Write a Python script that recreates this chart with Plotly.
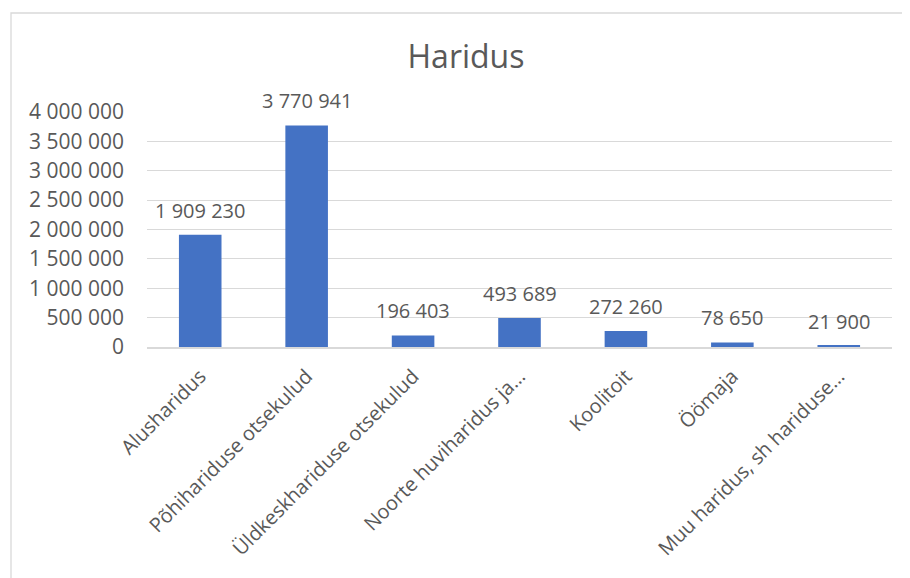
import plotly.graph_objects as go

categories = [
    "Alusharidus",
    "Põhihariduse otsekulud",
    "Üldkeskhariduse otsekulud",
    "Noorte huviharidus ja…",
    "Koolitoit",
    "Öömaja",
    "Muu haridus, sh hariduse…",
]
values = [1909230, 3770941, 196403, 493689, 272260, 78650, 21900]
labels = ["1 909 230", "3 770 941", "196 403", "493 689", "272 260", "78 650", "21 900"]

FONT = "Open Sans"
GREY = "#595959"
OFF = 8  # page body margin offset
W, H = 910 - OFF, 578 - OFF
L, R, T, B = 147 - OFF, 18, 112 - OFF, 231
pw = W - L - R
ph = H - T - B

fig = go.Figure(go.Bar(
    x=categories, y=values,
    marker=dict(color="#4472C4", line=dict(width=0)),
    cliponaxis=False,
))

for c, v, t in zip(categories, values, labels):
    fig.add_annotation(x=c, y=v, text=t, showarrow=False, yanchor="bottom",
                       xanchor="center", yshift=10, borderpad=0,
                       font=dict(family=FONT, size=20, color=GREY))

# chart-area border (light grey), extends past right/bottom edges
fig.add_shape(type="rect", xref="paper", yref="paper",
              x0=(11 - OFF - L) / pw, x1=(W + 5 - L) / pw,
              y0=(H - B - (H + 5)) / ph, y1=(H - B - (13 - OFF)) / ph,
              line=dict(color="#d9d9d9", width=1.3), fillcolor="rgba(0,0,0,0)", layer="below")

fig.update_layout(
    width=W, height=H,
    margin=dict(l=L, r=R, t=T, b=B, pad=0),
    paper_bgcolor="white", plot_bgcolor="white",
    separators=", ",
    bargap=0.6,
    showlegend=False,
    title=dict(text="Haridus", x=(466 - OFF) / W, xref="container", xanchor="center",
               y=1 - (57 - OFF) / H, yref="container", yanchor="middle",
               font=dict(family=FONT, size=32, color=GREY)),
    font=dict(family=FONT, size=20, color=GREY),
)
fig.update_yaxes(range=[0, 4000000], dtick=500000, tickformat=",d",
                 showgrid=True, gridcolor="#d9d9d9", gridwidth=1,
                 zeroline=False, showline=False, ticks="",
                 ticklabelstandoff=22,
                 tickfont=dict(family=FONT, size=21, color=GREY))
fig.update_xaxes(tickangle=-45, showline=True, linecolor="#d9d9d9", linewidth=1.5,
                 ticks="", ticklabelstandoff=8,
                 tickfont=dict(family=FONT, size=20, color=GREY))

fig.write_html("out.html")
